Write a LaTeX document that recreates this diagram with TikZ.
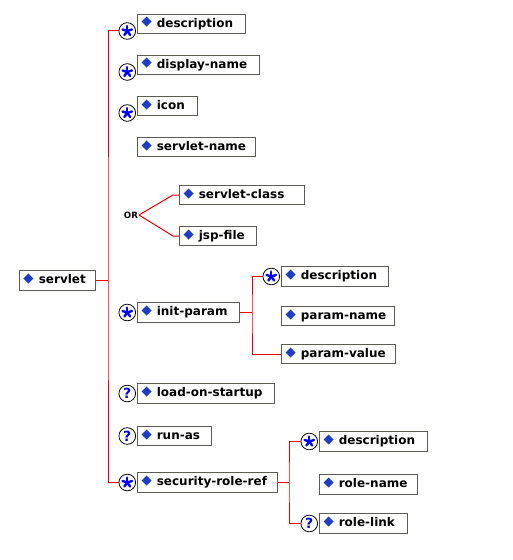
\documentclass[tikz,border=0pt]{standalone}
\usepackage{fontspec}
\usepackage{xcolor}
\usepackage{tikz}
\usetikzlibrary{positioning}
\newfontfamily\elsans{DejaVu Sans}
\definecolor{elFrame}{HTML}{5C5C54}
\definecolor{elBlue}{HTML}{1F3CC4}
\definecolor{elMark}{HTML}{0000FF}
\definecolor{elLine}{HTML}{F00000}
\newcommand{\elname}[1]{\mbox{{\fontsize{10}{10}\selectfont\color{elBlue}\raisebox{1pt}{◆}}\hspace{3.8pt}#1}}
\tikzset{
  elwidth/.code={\pgfmathsetlengthmacro\elw{#1*0.75pt-6pt}\tikzset{text width=\elw}},
  elbox/.style={draw=elFrame, fill=white, line width=0.75pt, anchor=west, align=left,
                minimum height=14.5pt, inner xsep=3pt, inner ysep=0pt, text height=7pt, text depth=2pt,
                font=\elsans\bfseries\fontsize{9}{10}\selectfont, elwidth=#1},
  starmark/.style={circle, draw=black, fill=white, line width=0.6pt, minimum size=12.5pt, inner sep=0pt,
                   path picture={\foreach \a in {90,18,162,234,306}
                     \draw[elMark, line width=1.8pt, line cap=round] (path picture bounding box.center) -- +(\a:3.7pt);}},
  qmark/.style={circle, draw=black, fill=white, line width=0.6pt, minimum size=12.5pt, inner sep=0pt,
                text=elMark, font=\elsans\bfseries\fontsize{10.5}{10}\selectfont},
  tline/.style={draw=elLine, line width=0.75pt},
  orlabel/.style={inner sep=0.5pt, font=\elsans\bfseries\fontsize{6.5}{7}\selectfont},
}

\begin{document}
\begin{tikzpicture}[x=0.75pt, y=-0.75pt]
    \useasboundingbox (0,0) rectangle (512,560);
    \fill[white] (0,0) rectangle (512,560);
    % element boxes
    \node[elbox=76] (servlet) at (19,280.5) {\elname{servlet}};
    \node[elbox=108] (desc) at (137,24) {\elname{description}};
    \node[elbox=122] (dispname) at (137,65) {\elname{display-name}};
    \node[elbox=60] (icon) at (137,106) {\elname{icon}};
    \node[elbox=118] (sname) at (137,147) {\elname{servlet-name}};
    \node[elbox=125] (sclass) at (179,195) {\elname{servlet-class}};
    \node[elbox=77] (jsp) at (179,236) {\elname{jsp-file}};
    \node[elbox=102] (initp) at (137,312.5) {\elname{init-param}};
    \node[elbox=107] (ipdesc) at (281,276.5) {\elname{description}};
    \node[elbox=113] (pname) at (281,316) {\elname{param-name}};
    \node[elbox=114] (pvalue) at (281,354) {\elname{param-value}};
    \node[elbox=137] (los) at (137,393.5) {\elname{load-on-startup}};
    \node[elbox=74] (runas) at (137,436) {\elname{run-as}};
    \node[elbox=140] (srr) at (137,482.5) {\elname{security-role-ref}};
    \node[elbox=108] (srdesc) at (319,441.5) {\elname{description}};
    \node[elbox=98] (rname) at (319,484.5) {\elname{role-name}};
    \node[elbox=88] (rlink) at (319,523.5) {\elname{role-link}};
    % occurrence marks
    \node[starmark, left=0.75pt of desc, yshift=-5.25pt] (mDesc) {};
    \node[starmark, left=0.75pt of dispname, yshift=-5.25pt] (mDisp) {};
    \node[starmark, left=0.75pt of icon, yshift=-5.25pt] (mIcon) {};
    \node[starmark, left=0.75pt of initp] (mInitp) {};
    \node[starmark, left=0.75pt of ipdesc] (mIpdesc) {};
    \node[qmark, left=0.75pt of los] (mLos) {?};
    \node[qmark, left=0.75pt of runas] (mRunas) {?};
    \node[starmark, left=0.75pt of srr] (mSrr) {};
    \node[starmark, left=0.75pt of srdesc] (mSrdesc) {};
    \node[qmark, left=0.75pt of rlink] (mRlink) {?};
    \node[orlabel] (orsel) at (131,215) {OR};
    % junctions
    \coordinate (spine) at (108,280.5);
    \coordinate (ipspine) at (252,312.5);
    \coordinate (srspine) at (289,482.5);
    \coordinate (orA) at (173,195);
    \coordinate (orB) at (173,236);
    % tree lines
    \draw[tline] (servlet.east) -- (spine);
    \draw[tline] (mDesc.west) -| (spine) |- (mSrr.west);
    \draw[tline] (initp.east) -- (ipspine);
    \draw[tline] (mIpdesc.west) -| (ipspine) |- (pvalue.west);
    \draw[tline] (srr.east) -- (srspine);
    \draw[tline] (mSrdesc.west) -| (srspine) |- (mRlink.west);
    \draw[tline] (orsel.east) -- (orA) -- (sclass.west);
    \draw[tline] (orsel.east) -- (orB) -- (jsp.west);
\end{tikzpicture}
\end{document}
